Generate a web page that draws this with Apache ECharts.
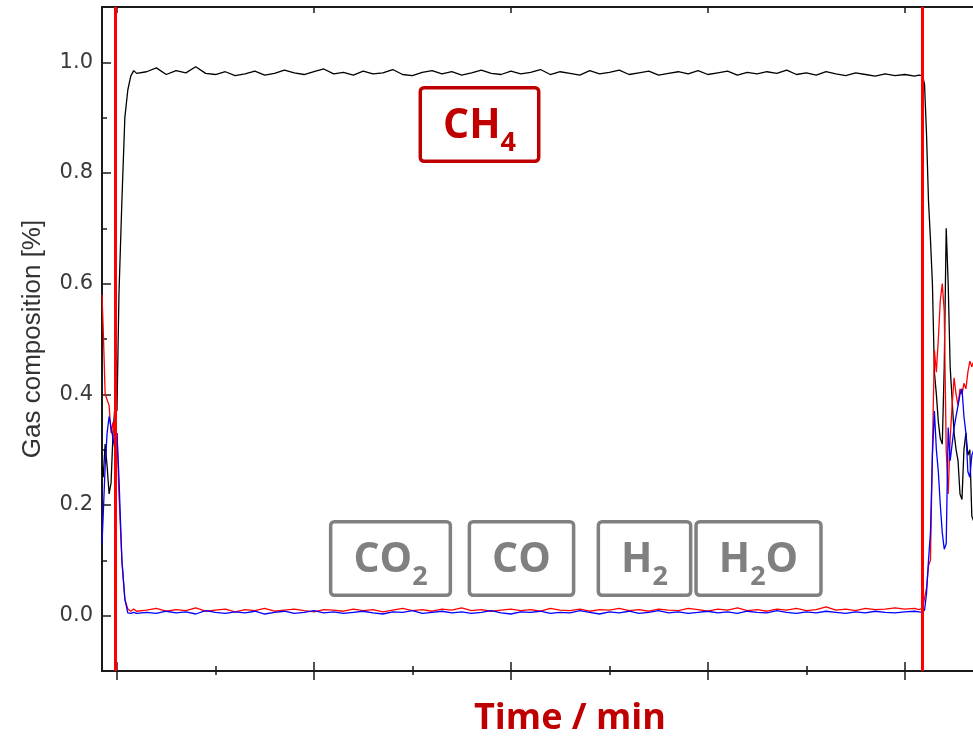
<!DOCTYPE html>
<html>
<head>
<meta charset="utf-8">
<script src="https://cdn.jsdelivr.net/npm/echarts@6/dist/echarts.min.js"></script>
<style>
  html, body { margin: 0; padding: 0; background: #fff; }
  #chart { width: 973px; height: 741px; }
</style>
</head>
<body>
<div id="chart"></div>
<script>
'use strict';
// time axis (arbitrary min units, major ticks every 10)
const time = [
    -0.76, -0.7, -0.6, -0.5, -0.4, -0.3, -0.2, -0.1, 0, 0.1, 0.25, 0.4, 0.55, 0.7, 0.85, 1.0,
    1.5, 2, 2.5, 3, 3.5, 4, 4.5, 5, 5.5, 6, 6.5, 7, 7.5, 8, 8.5, 9, 9.5, 10, 10.5, 11,
    11.5, 12, 12.5, 13, 13.5, 14, 14.5, 15, 15.5, 16, 16.5, 17, 17.5, 18, 18.5, 19, 19.5, 20, 20.5, 21,
    21.5, 22, 22.5, 23, 23.5, 24, 24.5, 25, 25.5, 26, 26.5, 27, 27.5, 28, 28.5, 29, 29.5, 30, 30.5, 31,
    31.5, 32, 32.5, 33, 33.5, 34, 34.5, 35, 35.5, 36, 36.5, 37, 37.5, 38, 38.5, 39, 39.5, 40, 40.5,
    40.7, 40.9, 41.0, 41.1, 41.2, 41.3, 41.4, 41.5, 41.6, 41.7, 41.8, 41.9, 42.0, 42.1, 42.2,
    42.3, 42.4, 42.5, 42.6, 42.7, 42.8, 42.9, 43.0, 43.1, 43.2, 43.3, 43.4, 43.5, 43.6, 43.8
];

// black trace
const ch4 = [
    0.27, 0.25, 0.31, 0.27, 0.22, 0.24, 0.33, 0.38, 0.37, 0.58, 0.75, 0.90, 0.95, 0.975, 0.985, 0.980,
    0.983, 0.990, 0.978, 0.985, 0.981, 0.992, 0.980, 0.978, 0.983, 0.976, 0.979, 0.984, 0.977, 0.980, 0.986, 0.981, 0.978, 0.983, 0.988, 0.979,
    0.982, 0.977, 0.984, 0.979, 0.981, 0.987, 0.978, 0.976, 0.982, 0.985, 0.979, 0.983, 0.977, 0.981, 0.986, 0.980, 0.978, 0.984, 0.979, 0.982,
    0.987, 0.978, 0.983, 0.980, 0.977, 0.985, 0.979, 0.982, 0.986, 0.978, 0.981, 0.984, 0.977, 0.980, 0.983, 0.979, 0.985, 0.978, 0.981, 0.984,
    0.977, 0.982, 0.979, 0.983, 0.980, 0.986, 0.978, 0.981, 0.977, 0.983, 0.979, 0.976, 0.981, 0.978, 0.975, 0.979, 0.976, 0.978, 0.975,
    0.977, 0.976, 0.96, 0.87, 0.75, 0.68, 0.60, 0.44, 0.40, 0.35, 0.32, 0.31, 0.45, 0.70, 0.60,
    0.45, 0.39, 0.33, 0.30, 0.28, 0.22, 0.21, 0.30, 0.33, 0.29, 0.30, 0.18, 0.17, 0.20, 0.22
];

// red trace
const redTrace = [
    0.58, 0.52, 0.40, 0.40, 0.38, 0.33, 0.35, 0.31, 0.33, 0.22, 0.10, 0.03, 0.012, 0.008, 0.012, 0.008,
    0.010, 0.013, 0.008, 0.011, 0.009, 0.014, 0.008, 0.010, 0.012, 0.007, 0.011, 0.009, 0.013, 0.008, 0.010, 0.012, 0.009, 0.007, 0.011, 0.010,
    0.008, 0.012, 0.009, 0.011, 0.007, 0.010, 0.013, 0.009, 0.011, 0.008, 0.012, 0.010, 0.014, 0.009, 0.011, 0.008, 0.010, 0.012, 0.009, 0.011,
    0.008, 0.013, 0.010, 0.009, 0.012, 0.008, 0.011, 0.010, 0.013, 0.009, 0.011, 0.008, 0.012, 0.010, 0.009, 0.013, 0.011, 0.008, 0.012, 0.010,
    0.014, 0.009, 0.011, 0.008, 0.012, 0.010, 0.013, 0.009, 0.011, 0.016, 0.010, 0.012, 0.009, 0.013, 0.011, 0.012, 0.014, 0.012, 0.013,
    0.011, 0.013, 0.015, 0.05, 0.09, 0.10, 0.30, 0.48, 0.44, 0.50, 0.57, 0.60, 0.55, 0.30, 0.22,
    0.32, 0.38, 0.43, 0.40, 0.38, 0.41, 0.40, 0.42, 0.41, 0.44, 0.46, 0.45, 0.46, 0.46, 0.45
];

// blue trace
const blueTrace = [
    0.13, 0.18, 0.27, 0.33, 0.36, 0.36, 0.32, 0.30, 0.33, 0.25, 0.10, 0.03, 0.005, 0.004, 0.006, 0.004,
    0.006, 0.004, 0.008, 0.005, 0.007, 0.003, 0.009, 0.006, 0.004, 0.007, 0.005, 0.008, 0.003, 0.006, 0.008, 0.004, 0.006, 0.009, 0.005, 0.007,
    0.004, 0.006, 0.008, 0.005, 0.003, 0.007, 0.006, 0.009, 0.004, 0.006, 0.008, 0.005, 0.007, 0.004, 0.006, 0.009, 0.005, 0.003, 0.007, 0.006,
    0.008, 0.004, 0.006, 0.005, 0.009, 0.006, 0.003, 0.007, 0.005, 0.008, 0.004, 0.006, 0.009, 0.005, 0.007, 0.004, 0.006, 0.008, 0.005, 0.007,
    0.004, 0.008, 0.006, 0.005, 0.009, 0.006, 0.004, 0.007, 0.005, 0.008, 0.006, 0.004, 0.007, 0.005, 0.008, 0.006, 0.005, 0.007, 0.008,
    0.007, 0.006, 0.01, 0.04, 0.10, 0.15, 0.29, 0.37, 0.30, 0.26, 0.20, 0.15, 0.12, 0.13, 0.34,
    0.28, 0.31, 0.34, 0.36, 0.38, 0.40, 0.41, 0.36, 0.33, 0.26, 0.25, 0.29, 0.30, 0.30, 0.31
];

const markerTimes = [-0.07, 40.88];
const xMajorTicks = [0, 10, 20, 30, 40];
const xMinorTicks = [5, 15, 25, 35];
const yMajorTicks = [0, 0.2, 0.4, 0.6, 0.8, 1.0];
const yMinorTicks = [0.1, 0.3, 0.5, 0.7, 0.9];

const pairs = (ys) => time.map((t, i) => [t, ys[i]]);

const axisColor = '#1a1a1a';
const xBase = {
    type: 'value', min: -0.76, max: 43.46, position: 'bottom',
    axisLine: { show: true, onZero: false, lineStyle: { color: axisColor, width: 2 } },
    axisLabel: { show: false },
    splitLine: { show: false }
};
const xAxisWithTicks = (ticks, inside, length, extra) => Object.assign({}, xBase, {
    axisTick: { show: true, inside: inside, length: length, customValues: ticks, lineStyle: { color: axisColor, width: 1.5 } }
}, extra || {});

const yBase = {
    type: 'value', min: -0.1, max: 1.1, position: 'left',
    axisLine: { show: true, onZero: false, lineStyle: { color: axisColor, width: 2 } },
    splitLine: { show: false }
};

const annoFont = '"Open Sans", "Noto Sans", sans-serif';
// boxed labels; the subscript token is pushed down with top padding
const annoBox = (cx, cy, text, color) => ({
    type: 'text', x: cx, y: cy, z: 100,
    style: {
        text: text,
        align: 'center', verticalAlign: 'middle',
        padding: [12, 21, 8, 21],
        borderColor: color, borderWidth: 3.5, borderRadius: 2,
        backgroundColor: '#fff',
        rich: {
            m: { fontSize: 41, fontWeight: 'bold', fontFamily: annoFont, fill: color, lineHeight: 50 },
            s: { fontSize: 27, fontWeight: 'bold', fontFamily: annoFont, fill: color, lineHeight: 12, verticalAlign: 'top', padding: [28, 0, 0, 0] }
        }
    }
});

const chart = echarts.init(document.getElementById('chart'));
chart.setOption({
    animation: false,
    grid: { left: 102, right: 0, top: 7, bottom: 70 },
    xAxis: [
        xAxisWithTicks(xMajorTicks, true, 9),
        xAxisWithTicks(xMajorTicks, false, 9),
        xAxisWithTicks(xMinorTicks, true, 5),
        xAxisWithTicks(xMinorTicks, false, 4),
        xAxisWithTicks(xMajorTicks, true, 6, { position: 'top' })
    ],
    yAxis: [
        Object.assign({}, yBase, {
            name: 'Gas composition [%]',
            nameLocation: 'middle',
            nameGap: 56,
            nameTextStyle: { fontSize: 26, fontFamily: '"Liberation Sans", Arial, sans-serif', color: '#333' },
            axisTick: { show: true, inside: true, length: 9, customValues: yMajorTicks, lineStyle: { color: axisColor, width: 1.5 } },
            axisLabel: {
                customValues: yMajorTicks, margin: 9,
                fontSize: 21, fontFamily: '"DejaVu Sans", sans-serif', color: '#3a3a3a',
                formatter: v => v.toFixed(1)
            }
        }),
        Object.assign({}, yBase, {
            axisTick: { show: true, inside: true, length: 5, customValues: yMinorTicks, lineStyle: { color: axisColor, width: 1.5 } },
            axisLabel: { show: false }
        })
    ],
    series: [
        {
            name: 'CH4', type: 'line', data: pairs(ch4), symbol: 'none',
            lineStyle: { color: '#000', width: 1.3 },
            markLine: {
                silent: true, symbol: ['none', 'none'], label: { show: false },
                lineStyle: { color: '#ff0000', width: 3, type: 'solid' },
                data: markerTimes.map(t => ({ xAxis: t }))
            }
        },
        {
            name: 'red', type: 'line', data: pairs(redTrace), symbol: 'none',
            lineStyle: { color: '#ff0000', width: 1.3 }
        },
        {
            name: 'blue', type: 'line', data: pairs(blueTrace), symbol: 'none',
            lineStyle: { color: '#0000ff', width: 1.3 }
        }
    ],
    graphic: [
        annoBox(479.5, 124.5, '{m|CH}{s|4}', '#c00000'),
        annoBox(390.5, 558.5, '{m|CO}{s|2}', '#808080'),
        annoBox(521.5, 558.5, '{m|CO}', '#808080'),
        annoBox(644.5, 558.5, '{m|H}{s|2}', '#808080'),
        annoBox(758.5, 558.5, '{m|H}{s|2}{m|O}', '#808080'),
        {
            type: 'text', x: 570, y: 719,
            style: {
                text: 'Time / min', align: 'center', verticalAlign: 'middle',
                fontSize: 36, fontWeight: 'bold', fontFamily: annoFont, fill: '#c00000'
            }
        }
    ]
});
</script>
</body>
</html>
